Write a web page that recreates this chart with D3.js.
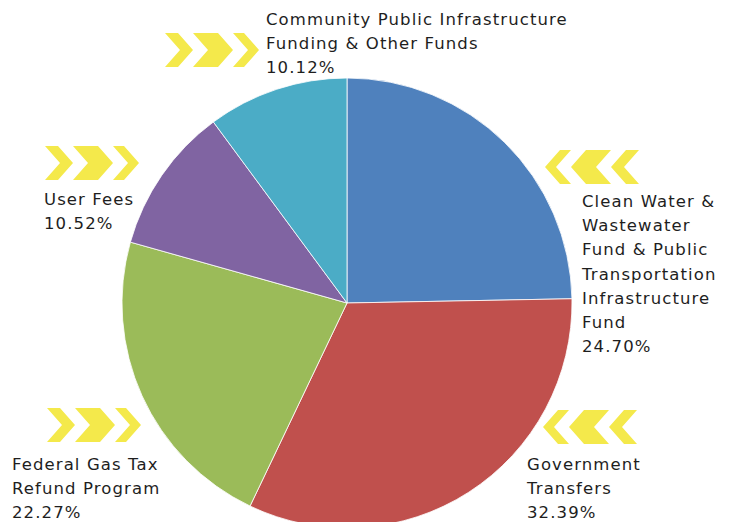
<!DOCTYPE html>
<html>
<head>
<meta charset="utf-8">
<script src="https://cdn.jsdelivr.net/npm/d3@7"></script>
<style>
  body { margin: 0; background: #fff; }
  svg { display: block; }
  .lbl { font-family: "DejaVu Sans", sans-serif; font-size: 16.5px; letter-spacing: 1.1px; fill: #1e1e1e; }
</style>
</head>
<body>
<div id="chart"></div>
<script>
// data, clockwise from 12 o'clock
const categories = [
    ["Clean Water &", "Wastewater", "Fund & Public", "Transportation", "Infrastructure", "Fund"],
    ["Government", "Transfers"],
    ["Federal Gas Tax", "Refund Program"],
    ["User Fees"],
    ["Community Public Infrastructure", "Funding & Other Funds"]
];
const shares = [24.70, 32.39, 22.27, 10.52, 10.12];
const colors = ["#4F81BD", "#C0504D", "#9BBB59", "#8064A2", "#4BACC6"];

// where each label block sits (left x, first line y)
const labelPos = [[582, 207], [527, 470], [12, 470], [44, 205], [266, 25]];
// chevron groups: left x, centre y, direction
const arrowPos = [[545, 167, -1], [543, 427, -1], [47, 425, 1], [45, 163, 1], [165, 50, 1]];

const W = 736, H = 522;
const svg = d3.select("#chart").append("svg").attr("width", W).attr("height", H);

const cx = 347, cy = 303, r = 225;
const pie = d3.pie().sort(null).value(d => d);
const arc = d3.arc().innerRadius(0).outerRadius(r);

svg.append("g")
    .attr("transform", `translate(${cx},${cy})`)
    .selectAll("path")
    .data(pie(shares))
    .enter()
    .append("path")
    .attr("d", arc)
    .attr("fill", (d, i) => colors[i])
    .attr("stroke", "#fff")
    .attr("stroke-width", 0.8);

// yellow chevrons
const h = 34, dep = 15;
function chevron(x, w) {
    return [[x, 0], [x + w, 0], [x + w + dep, h / 2], [x + w, h], [x, h], [x + dep, h / 2]];
}
const widths = [13, 25, 11];
arrowPos.forEach(([ax, ay, dir]) => {
    let g = svg.append("g");
    let x = 0, polys = [];
    widths.forEach(w => {
        polys.push(chevron(x, w));
        x += w + dep;
    });
    let total = x;
    if (dir > 0) {
        g.attr("transform", `translate(${ax},${ay - h / 2})`);
    } else {
        g.attr("transform", `translate(${ax + total},${ay - h / 2}) scale(-1,1)`);
    }
    g.selectAll("polygon").data(polys).enter().append("polygon")
        .attr("points", d => d.map(p => p.join(",")).join(" "))
        .attr("fill", "#F4E94B");
});

// labels
categories.forEach((lines, i) => {
    const [lx, ly] = labelPos[i];
    const t = svg.append("text").attr("class", "lbl").attr("x", lx).attr("y", ly);
    lines.concat([shares[i].toFixed(2) + "%"]).forEach((s, k) => {
        t.append("tspan").attr("x", lx).attr("dy", k === 0 ? 0 : 24.2).text(s);
    });
});
</script>
</body>
</html>
